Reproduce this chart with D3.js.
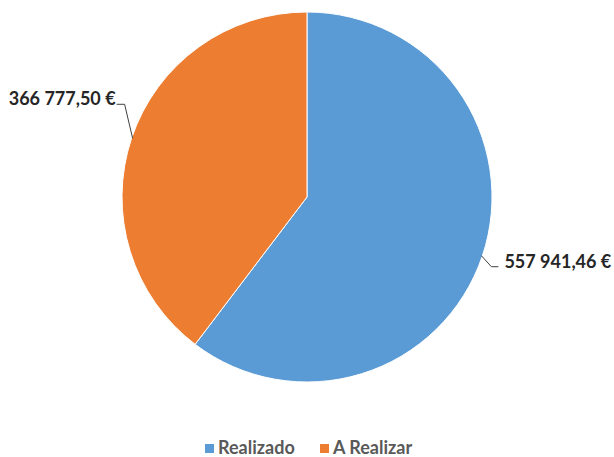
<!DOCTYPE html>
<html>
<head>
<meta charset="utf-8">
<script src="https://cdn.jsdelivr.net/npm/d3@7"></script>
<style>
  body { margin: 0; background: #fff; }
  text { font-family: Lato, "Open Sans", sans-serif; }
</style>
</head>
<body>
<div id="chart-area"></div>
<script>
const categories = ["Realizado", "A Realizar"];
const values = [557941.46, 366777.50];
const valueLabels = ["557 941,46 €", "366 777,50 €"];
const colors = ["#5B9BD5", "#ED7D31"];

const width = 614;
const height = 457;
const cx = 307, cy = 197, radius = 185;

const svg = d3.select('#chart-area')
    .append('svg')
    .attr("width", width)
    .attr("height", height);

const data = categories.map((c, i) => ({ name: c, value: values[i], label: valueLabels[i], color: colors[i] }));

const pie = d3.pie()
    .value(d => d.value)
    .sort(null);

const arc = d3.arc()
    .innerRadius(0)
    .outerRadius(radius);

const arcs = pie(data);

const g = svg.append('g')
    .attr("transform", `translate(${cx}, ${cy})`);

g.selectAll('path')
    .data(arcs)
    .enter()
    .append('path')
    .attr('d', arc)
    .attr('fill', d => d.data.color)
    .attr('stroke', '#fff')
    .attr('stroke-width', 1);

// leader lines + labels
arcs.forEach(a => {
    const mid = (a.startAngle + a.endAngle) / 2;
    const sx = Math.sin(mid), sy = -Math.cos(mid);
    const p0 = [sx * (radius - 1), sy * (radius - 1)];
    const right = sx > 0;
    let elbow, end;
    if (right) {
        elbow = [p0[0] + 10, p0[1] + 11];
        end = [elbow[0] + 7, elbow[1]];
    } else {
        elbow = [p0[0] - 8, p0[1] - 34];
        end = [elbow[0] - 8, elbow[1]];
    }
    g.append('polyline')
        .attr('points', [p0, elbow, end].map(p => p.join(',')).join(' '))
        .attr('fill', 'none')
        .attr('stroke', '#404040')
        .attr('stroke-width', 1);
    g.append('text')
        .attr('x', right ? end[0] + 6 : end[0] - 1)
        .attr('y', end[1] + 1)
        .attr('text-anchor', right ? 'start' : 'end')
        .attr('font-size', '18px')
        .attr('font-weight', 'bold')
        .style('fill', '#262626')
        .text(a.data.label);
});

// legend
const legend = svg.append('g')
    .attr('transform', 'translate(205, 448)');
const legendX = d3.scaleOrdinal()
    .domain(categories)
    .range([0, 115]);

const item = legend.selectAll('g')
    .data(data)
    .enter()
    .append('g')
    .attr('transform', d => `translate(${legendX(d.name)}, 0)`);

item.append('rect')
    .attr('x', 0)
    .attr('y', -4)
    .attr('width', 9)
    .attr('height', 9)
    .attr('fill', d => d.color);

item.append('text')
    .attr('x', 13)
    .attr('y', 6)
    .attr('font-size', '18px')
    .attr('font-weight', 'bold')
    .style('fill', '#595959')
    .text(d => d.name);
</script>
</body>
</html>
